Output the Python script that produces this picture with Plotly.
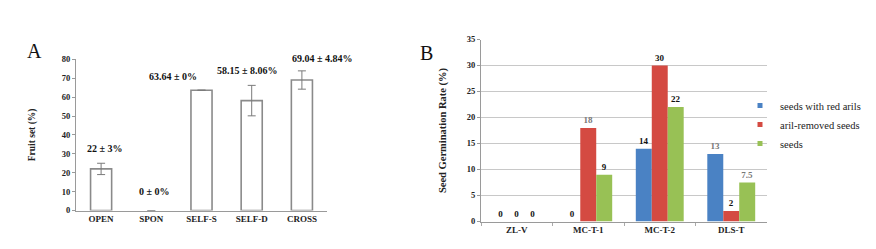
import plotly.graph_objects as go

# ---- Panel A data ----
a_categories = ["OPEN", "SPON", "SELF-S", "SELF-D", "CROSS"]
a_values = [22, 0, 63.64, 58.15, 69.04]
a_errors = [3, 0, 0, 8.06, 4.84]
a_labels = ["22 ± 3%", "0 ± 0%", "63.64 ± 0%", "58.15 ± 8.06%", "69.04 ± 4.84%"]
a_yticks = [0, 10, 20, 30, 40, 50, 60, 70, 80]

# ---- Panel B data ----
b_categories = ["ZL-V", "MC-T-1", "MC-T-2", "DLS-T"]
b_series_names = ["seeds with red arils", "aril-removed seeds", "seeds"]
b_red_arils = [0, 0, 14, 13]
b_aril_removed = [0, 18, 30, 2]
b_seeds = [0, 9, 22, 7.5]
b_yticks = [0, 5, 10, 15, 20, 25, 30, 35]

SERIF = "Liberation Serif, Times New Roman, serif"
OFF = 8  # page body margin
W, H = 876 - OFF, 249 - OFF

def px_x(p):
    return (p - OFF) / W

def px_y(p):
    return 1 - (p - OFF) / H

fig = go.Figure()

# Panel A bars
fig.add_trace(go.Bar(
    x=a_categories, y=a_values, xaxis="x", yaxis="y",
    width=0.42,
    marker=dict(color="white",
                line=dict(color="#8a8a8a", width=[1.6 if v > 0 else 0 for v in a_values])),
    error_y=dict(type="data", array=a_errors, color="#7a7a7a", thickness=1, width=4),
    showlegend=False, hoverinfo="skip",
))

# Panel A labels (positioned from the data)
a_xshift = [4, 3, -29, -4, 21]
a_yshift = [15, 19, 14, 15, 12]
for cat, v, e, lab, xs, ys in zip(a_categories, a_values, a_errors, a_labels, a_xshift, a_yshift):
    fig.add_annotation(
        x=cat, y=v + e, xref="x", yref="y", text=lab, showarrow=False,
        xshift=xs, yshift=ys, yanchor="middle",
        font=dict(family=SERIF, size=10, color="#111", weight="bold"),
    )

# Panel B bars
b_colors = ["#4a82c4", "#d44a42", "#98c155"]
b_text_colors = [
    ["#111", "#111", "#111", "#777"],
    ["#111", "#777", "#111", "#111"],
    ["#111", "#111", "#111", "#777"],
]
for name, vals, col, tcol in zip(b_series_names, [b_red_arils, b_aril_removed, b_seeds], b_colors, b_text_colors):
    fig.add_trace(go.Bar(
        x=b_categories, y=vals, name=name, xaxis="x2", yaxis="y2",
        marker=dict(color=col, line=dict(width=0)),
        text=[("%g" % v) for v in vals], textposition="outside",
        textfont=dict(family=SERIF, size=9, color=tcol, weight="bold"),
        cliponaxis=False, showlegend=False, hoverinfo="skip",
    ))
    # legend proxy with small square marker
    fig.add_trace(go.Scatter(
        x=[None], y=[None], mode="markers", name=name, xaxis="x2", yaxis="y2",
        marker=dict(symbol="square", size=5, color=col),
        showlegend=True,
    ))

line_common = dict(showline=True, linecolor="#9a9a9a", linewidth=1, zeroline=False, automargin=False)
tick_small = dict(family=SERIF, size=8.5, color="#222", weight="bold")
tick_cat = dict(family=SERIF, size=9, color="#222", weight="bold")

fig.update_layout(
    template="none",
    width=W, height=H,
    margin=dict(l=0, r=0, t=0, b=0, autoexpand=False),
    paper_bgcolor="white", plot_bgcolor="white",
    barmode="group", bargap=0.33, bargroupgap=0,
    showlegend=True,
    legend=dict(
        x=px_x(740), y=px_y(91), xanchor="left", yanchor="top",
        font=dict(family=SERIF, size=10.5, color="#222"),
        bgcolor="rgba(0,0,0,0)", itemwidth=30, tracegroupgap=0,
    ),
    xaxis=dict(
        domain=[px_x(76), px_x(327)], anchor="y", type="category",
        range=[-0.5, 4.5], ticks="", showgrid=False, tickfont=tick_cat, **line_common,
    ),
    yaxis=dict(
        domain=[px_y(210.5), px_y(59.3)], anchor="x",
        range=[0, 80], tickvals=a_yticks, ticks="outside", ticklen=3, tickcolor="#9a9a9a",
        showgrid=False, tickfont=tick_small,
        title=dict(text="Fruit set (%)", standoff=24,
                   font=dict(family=SERIF, size=9.5, color="#222", weight="bold")),
        **line_common,
    ),
    xaxis2=dict(
        domain=[px_x(481), px_x(767)], anchor="y2", type="category",
        range=[-0.5, 3.5], ticks="outside", ticklen=3, tickcolor="#aaaaaa",
        tickson="boundaries", showgrid=False, tickfont=tick_cat, **line_common,
    ),
    yaxis2=dict(
        domain=[px_y(221.5), px_y(39.5)], anchor="x2",
        range=[0, 35], tickvals=b_yticks, ticks="outside", ticklen=3, tickcolor="#9a9a9a",
        showgrid=True, gridcolor="#c8c8c8", gridwidth=1, tickfont=tick_small,
        title=dict(text="Seed Germination Rate (%)", standoff=18,
                   font=dict(family=SERIF, size=10.5, color="#222", weight="bold")),
        **line_common,
    ),
)

# Panel letters
fig.add_annotation(x=px_x(25), y=px_y(38), xref="paper", yref="paper", text="A",
                   showarrow=False, font=dict(family=SERIF, size=20, color="#111"))
fig.add_annotation(x=px_x(426), y=px_y(40), xref="paper", yref="paper", text="B",
                   showarrow=False, font=dict(family=SERIF, size=20, color="#111"))

fig.write_html("out.html")
